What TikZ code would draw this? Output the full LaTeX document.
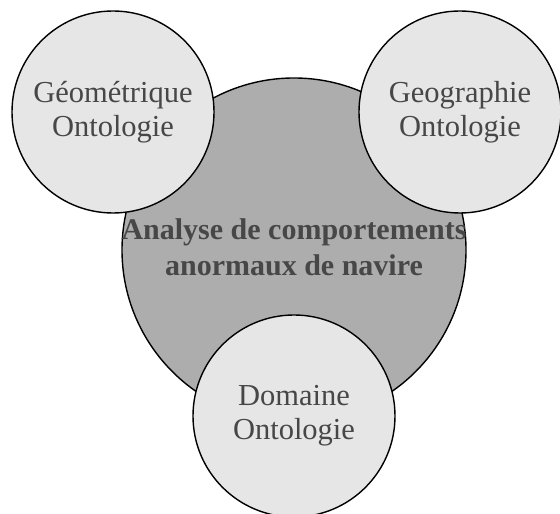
\documentclass[tikz,border=0pt]{standalone}
\usepackage{fontspec}
\setmainfont{Liberation Serif}
\definecolor{bigfill}{HTML}{ADADAD}
\definecolor{smallfill}{HTML}{E6E6E6}
\definecolor{txt}{HTML}{474747}
\begin{document}
\begin{tikzpicture}[x=1pt,y=1pt,
  bigc/.style={circle,draw=black,line width=1.4pt,fill=bigfill,minimum size=344pt,inner sep=0pt},
  smallc/.style={circle,draw=black,line width=1.4pt,fill=smallfill,minimum size=202pt,inner sep=0pt,
     font=\fontsize{30.5}{34}\selectfont,text=txt,align=center},
  maintxt/.style={font=\bfseries\fontsize{30}{36}\selectfont,text=txt,align=center}]
\useasboundingbox (0,0) rectangle (560,514);
\node[bigc] (big) at (294,264) {};
\node[maintxt] (mt) at (294,267) {Analyse de comportements\\anormaux de navire};
\node[smallc] (geo) at (113,402) {Géométrique\\Ontologie};
\node[smallc] (geog) at (460,402) {Geographie\\Ontologie};
\node[smallc] (dom) at (294,98) {Domaine\\Ontologie};
\end{tikzpicture}
\end{document}
